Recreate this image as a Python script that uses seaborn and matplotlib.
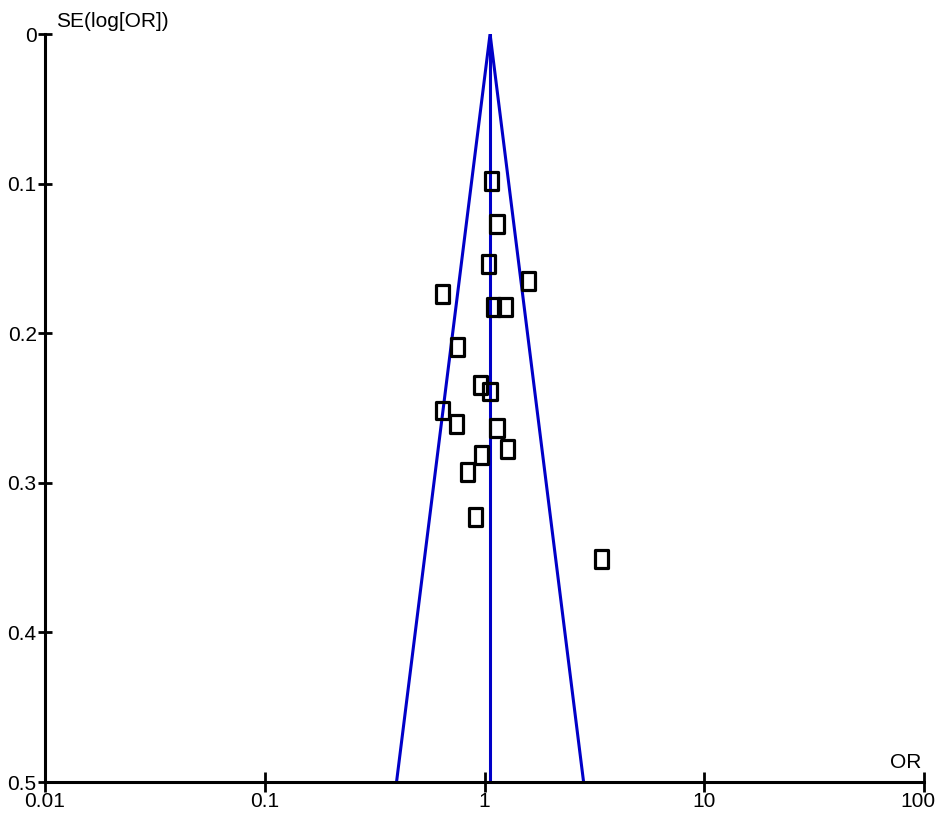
import numpy as np
import pandas as pd
import matplotlib
matplotlib.use("Agg")
import matplotlib.pyplot as plt
import matplotlib.transforms as mtransforms
import seaborn as sns
from matplotlib.path import Path

# Study estimates
odds_ratio = [1.08, 1.14, 1.04, 1.58, 0.642, 1.10, 1.24, 0.753, 0.961,
              1.06, 0.642, 0.747, 1.14, 1.27, 0.971, 0.837, 0.912, 3.42]
se_log_or = [0.098, 0.127, 0.154, 0.165, 0.174, 0.1825, 0.1825, 0.209, 0.2346,
             0.239, 0.2517, 0.2606, 0.2632, 0.2772, 0.2814, 0.2928, 0.3226, 0.351]
pooled_or = 1.06
se_max = 0.5
x_ticks = [0.01, 0.1, 1, 10, 100]
x_tick_labels = ["0.01", "0.1", "1", "10", "100"]
y_ticks = [0, 0.1, 0.2, 0.3, 0.4, 0.5]
y_tick_labels = ["0", "0.1", "0.2", "0.3", "0.4", "0.5"]

sns.set_style("white")
plt.rcParams['font.family'] = ['Liberation Sans Narrow', 'Liberation Sans', 'DejaVu Sans']
plt.rcParams['text.color'] = 'black'
plt.rcParams['xtick.color'] = 'black'
plt.rcParams['ytick.color'] = 'black'

fig = plt.figure(figsize=(9.4, 8.18), dpi=100)
ax = fig.add_axes([45/940, 1-782/818, (924-45)/940, (782-34)/818])

df = pd.DataFrame({"OR": odds_ratio, "SE": se_log_or})

# funnel lines
lo = np.exp(np.log(pooled_or) - 1.96 * se_max)
hi = np.exp(np.log(pooled_or) + 1.96 * se_max)
funnel = pd.DataFrame({"OR": [lo, pooled_or, hi], "SE": [se_max, 0, se_max]})
sns.lineplot(data=funnel, x="OR", y="SE", sort=False, estimator=None,
             color="#0000C8", lw=2.2, ax=ax)
center = pd.DataFrame({"OR": [pooled_or, pooled_or], "SE": [0, se_max]})
sns.lineplot(data=center, x="OR", y="SE", sort=False, estimator=None,
             color="#0000C8", lw=2.2, ax=ax)

rect = Path([(-0.37, -0.5), (0.37, -0.5), (0.37, 0.5), (-0.37, 0.5), (-0.37, -0.5)],
            [Path.MOVETO, Path.LINETO, Path.LINETO, Path.LINETO, Path.CLOSEPOLY])
sns.scatterplot(data=df, x="OR", y="SE", marker=rect, s=165,
                facecolor="none", edgecolor="black", linewidth=2.3, ax=ax, zorder=5)

ax.set_xscale("log")
ax.set_xlim(0.01, 100)
ax.set_ylim(0.5, 0)
ax.set_xticks(x_ticks)
ax.set_xticklabels(x_tick_labels)
ax.set_yticks(y_ticks)
ax.set_yticklabels(y_tick_labels)
ax.minorticks_off()
ax.set_xlabel("")
ax.set_ylabel("")

for s in ["top", "right"]:
    ax.spines[s].set_visible(False)
for s in ["left", "bottom"]:
    ax.spines[s].set_color("black")
    ax.spines[s].set_linewidth(2.2)

ax.tick_params(axis="x", bottom=True, direction="inout", length=14, width=2,
               labelsize=15, pad=0, colors="black", labelcolor="black")
ax.tick_params(axis="y", left=True, direction="inout", length=10, width=2,
               labelsize=15, pad=1, colors="black", labelcolor="black")

# keep the last x tick label inside the figure
last = ax.get_xticklabels()[-1]
last.set_transform(last.get_transform() +
                   mtransforms.ScaledTranslation(-6/100, 0, fig.dpi_scale_trans))

fig.text(56/940, 1-27/818, "SE(log[OR])", fontsize=15, ha="left",
         va="baseline", color="black")
fig.text(921/940, 1-768/818, "OR", fontsize=15, ha="right",
         va="baseline", color="black")

fig.savefig("out.png", dpi=100, facecolor="white")
